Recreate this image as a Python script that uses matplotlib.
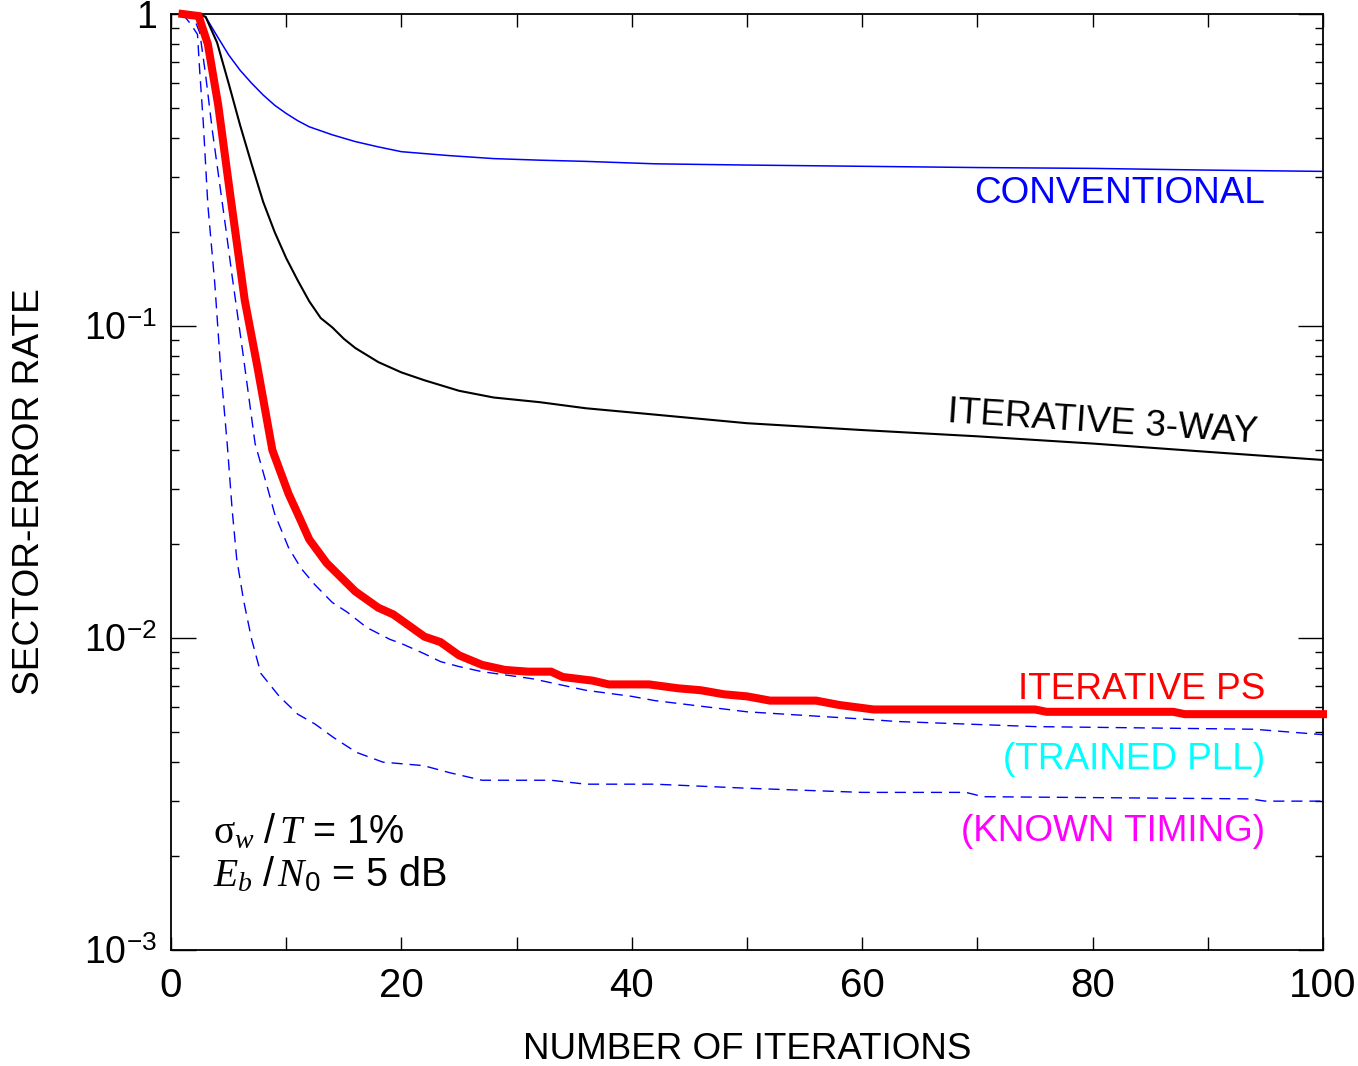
import matplotlib
matplotlib.use("Agg")
import matplotlib.pyplot as plt
from matplotlib.ticker import MultipleLocator, FuncFormatter, FixedLocator, LogLocator, NullFormatter

# ---- data -------------------------------------------------------------
conv_x = [1, 2, 3, 4, 5, 6, 7, 8, 9, 10, 11, 12, 14, 16, 18, 20, 24, 28, 32, 36,
          42, 50, 60, 70, 80, 90, 100]
conv_y = [1.0, 1.0, 0.98, 0.85, 0.74, 0.66, 0.60, 0.55, 0.51, 0.48, 0.455, 0.435,
          0.41, 0.39, 0.375, 0.362, 0.352, 0.344, 0.340, 0.337, 0.331, 0.328,
          0.325, 0.322, 0.320, 0.316, 0.313]

way3_x = [1, 2, 3, 4, 5, 6, 7, 8, 9, 10, 11, 12, 13, 14, 15, 16, 18, 20, 22, 25,
          28, 32, 36, 42, 50, 60, 70, 80, 90, 100]
way3_y = [1.0, 1.0, 0.98, 0.81, 0.60, 0.44, 0.33, 0.25, 0.20, 0.165, 0.14, 0.12,
          0.106, 0.099, 0.091, 0.085, 0.0766, 0.071, 0.067, 0.062, 0.059, 0.057,
          0.0545, 0.052, 0.0488, 0.0464, 0.0443, 0.042, 0.0395, 0.0372]

ps_x = [1, 2.4, 3.2, 4.1, 5.1, 6.4, 7.5, 8.8, 10.2, 11, 12, 13.5, 16, 18, 19.3,
        22, 23.4, 25, 27, 29, 31, 33, 34, 36.6, 38, 41.5, 44, 46, 48, 50, 52, 56,
        58, 61, 75, 76, 87, 88, 100]
ps_y = [1.0, 0.985, 0.80, 0.51, 0.27, 0.121, 0.074, 0.040, 0.029, 0.025, 0.0207,
        0.0174, 0.0141, 0.0125, 0.0119, 0.0101, 0.0097, 0.0088, 0.0082, 0.0079,
        0.0078, 0.0078, 0.0075, 0.0073, 0.0071, 0.0071, 0.0069, 0.0068, 0.0066,
        0.0065, 0.0063, 0.0063, 0.0061, 0.0059, 0.0059, 0.0058, 0.0058, 0.0057,
        0.0057]

pll_x = [1, 2, 2.5, 3, 3.6, 4.2, 4.8, 5.3, 6.2, 7.3, 8.2, 9, 10.2, 11.3, 12.5, 14,
         15.3, 17, 19, 20, 22, 23.4, 25, 27, 31.4, 36, 40, 42, 50, 60, 63, 75, 94,
         100]
pll_y = [1.0, 0.97, 0.87, 0.64, 0.42, 0.29, 0.20, 0.145, 0.084, 0.042, 0.032,
         0.025, 0.0195, 0.0167, 0.0148, 0.013, 0.0121, 0.0108, 0.0099, 0.0096,
         0.0089, 0.0084, 0.0081, 0.0078, 0.0074, 0.0068, 0.0065, 0.0063, 0.0058,
         0.0055, 0.0054, 0.0052, 0.0051, 0.0049]

known_x = [1, 1.7, 2.3, 2.5, 2.8, 3.2, 3.8, 4.3, 4.9, 5.3, 5.7, 6.3, 7, 7.8, 9.4,
           11, 12.5, 14.1, 16.1, 18.4, 21.9, 24.2, 27, 33, 36, 42, 50, 60, 69,
           70.5, 93.7, 95, 100]
known_y = [1.0, 0.93, 0.86, 0.65, 0.45, 0.244, 0.137, 0.074, 0.041, 0.026, 0.018,
           0.0132, 0.0099, 0.0077, 0.0065, 0.0057, 0.0053, 0.0048, 0.0043, 0.0040,
           0.0039, 0.0037, 0.0035, 0.0035, 0.0034, 0.0034, 0.0033, 0.0032, 0.0032,
           0.0031, 0.00305, 0.0030, 0.0030]

y_ticks = [1e-3, 1e-2, 1e-1, 1]
y_tick_labels = [r"$10^{-3}$", r"$10^{-2}$", r"$10^{-1}$", "1"]

# ---- style ------------------------------------------------------------
plt.rcParams.update({
    "font.family": ["Liberation Sans", "DejaVu Sans"],
    "mathtext.fontset": "custom",
    "mathtext.rm": "Liberation Sans",
    "mathtext.it": "Liberation Serif:italic",
    "mathtext.bf": "Liberation Serif",
})

W, H = 1358, 1066
fig = plt.figure(figsize=(W / 100, H / 100), dpi=100)
ax = fig.add_axes([171 / W, 1 - 950 / H, 1152 / W, 936 / H])

ax.set_yscale("log")
ax.set_xlim(0, 100)
ax.set_ylim(1e-3, 1)

dash = (8, 5)
ax.plot(known_x, known_y, color="#0000ff", lw=1.0, dashes=dash)
ax.plot(pll_x, pll_y, color="#0000ff", lw=1.0, dashes=dash)
ax.plot(conv_x, conv_y, color="#0000ff", lw=1.1)
ax.plot(way3_x, way3_y, color="black", lw=1.5)
ax.plot(ps_x, ps_y, color="#ff0000", lw=5.8, solid_capstyle="projecting",
        solid_joinstyle="miter", clip_on=False, zorder=5)

# ---- axes / ticks -----------------------------------------------------
ax.xaxis.set_major_locator(MultipleLocator(10))
ax.xaxis.set_major_formatter(
    FuncFormatter(lambda v, p: f"{int(round(v))}" if int(round(v)) % 20 == 0 else ""))
ax.yaxis.set_major_locator(FixedLocator(y_ticks))
ax.set_yticklabels(y_tick_labels)
ax.yaxis.set_minor_locator(LogLocator(base=10, subs=range(2, 10)))
ax.yaxis.set_minor_formatter(NullFormatter())

ax.tick_params(axis="x", which="major", direction="in", top=True, length=9.5,
               width=1.0, labelsize=29, pad=12)
ax.tick_params(axis="y", which="major", direction="in", right=True, length=18,
               width=1.0, labelsize=27, pad=10)
ax.tick_params(axis="y", which="minor", direction="in", right=True, length=6,
               width=1.0)
for s in ax.spines.values():
    s.set_linewidth(1.3)

ax.set_xlabel("NUMBER OF ITERATIONS", fontsize=26.5)
ax.xaxis.set_label_coords(0.5, -0.088)
ax.set_ylabel("SECTOR-ERROR RATE", fontsize=26.7)
ax.yaxis.set_label_coords(-0.1076, 0.49)

# ---- curve labels -----------------------------------------------------
lab_x = 95
lab_fs = 26.6
ax.text(lab_x, 0.248, "CONVENTIONAL", color="#0000ff", fontsize=lab_fs,
        ha="right", va="baseline")
ax.text(80.9, 0.0489, "ITERATIVE 3-WAY", color="black", fontsize=lab_fs,
        ha="center", va="center", rotation=-3.8, rotation_mode="anchor")
ax.text(lab_x, 0.00639, "ITERATIVE PS", color="#ff0000", fontsize=lab_fs,
        ha="right", va="baseline")
ax.text(lab_x, 0.00381, "(TRAINED PLL)", color="#00ffff", fontsize=lab_fs,
        ha="right", va="baseline")
ax.text(lab_x, 0.00223, "(KNOWN TIMING)", color="#ff00ff", fontsize=lab_fs,
        ha="right", va="baseline")

ax.text(0.0365, 0.1143, r"$\mathbf{\sigma}_w\ /\,T$ = 1%", transform=ax.transAxes,
        fontsize=28.5, ha="left", va="baseline")
ax.text(0.0365, 0.0684, r"$E_b\ /\,N_0$ = 5 dB", transform=ax.transAxes,
        fontsize=28.5, ha="left", va="baseline")

fig.savefig("out.png", dpi=100)
